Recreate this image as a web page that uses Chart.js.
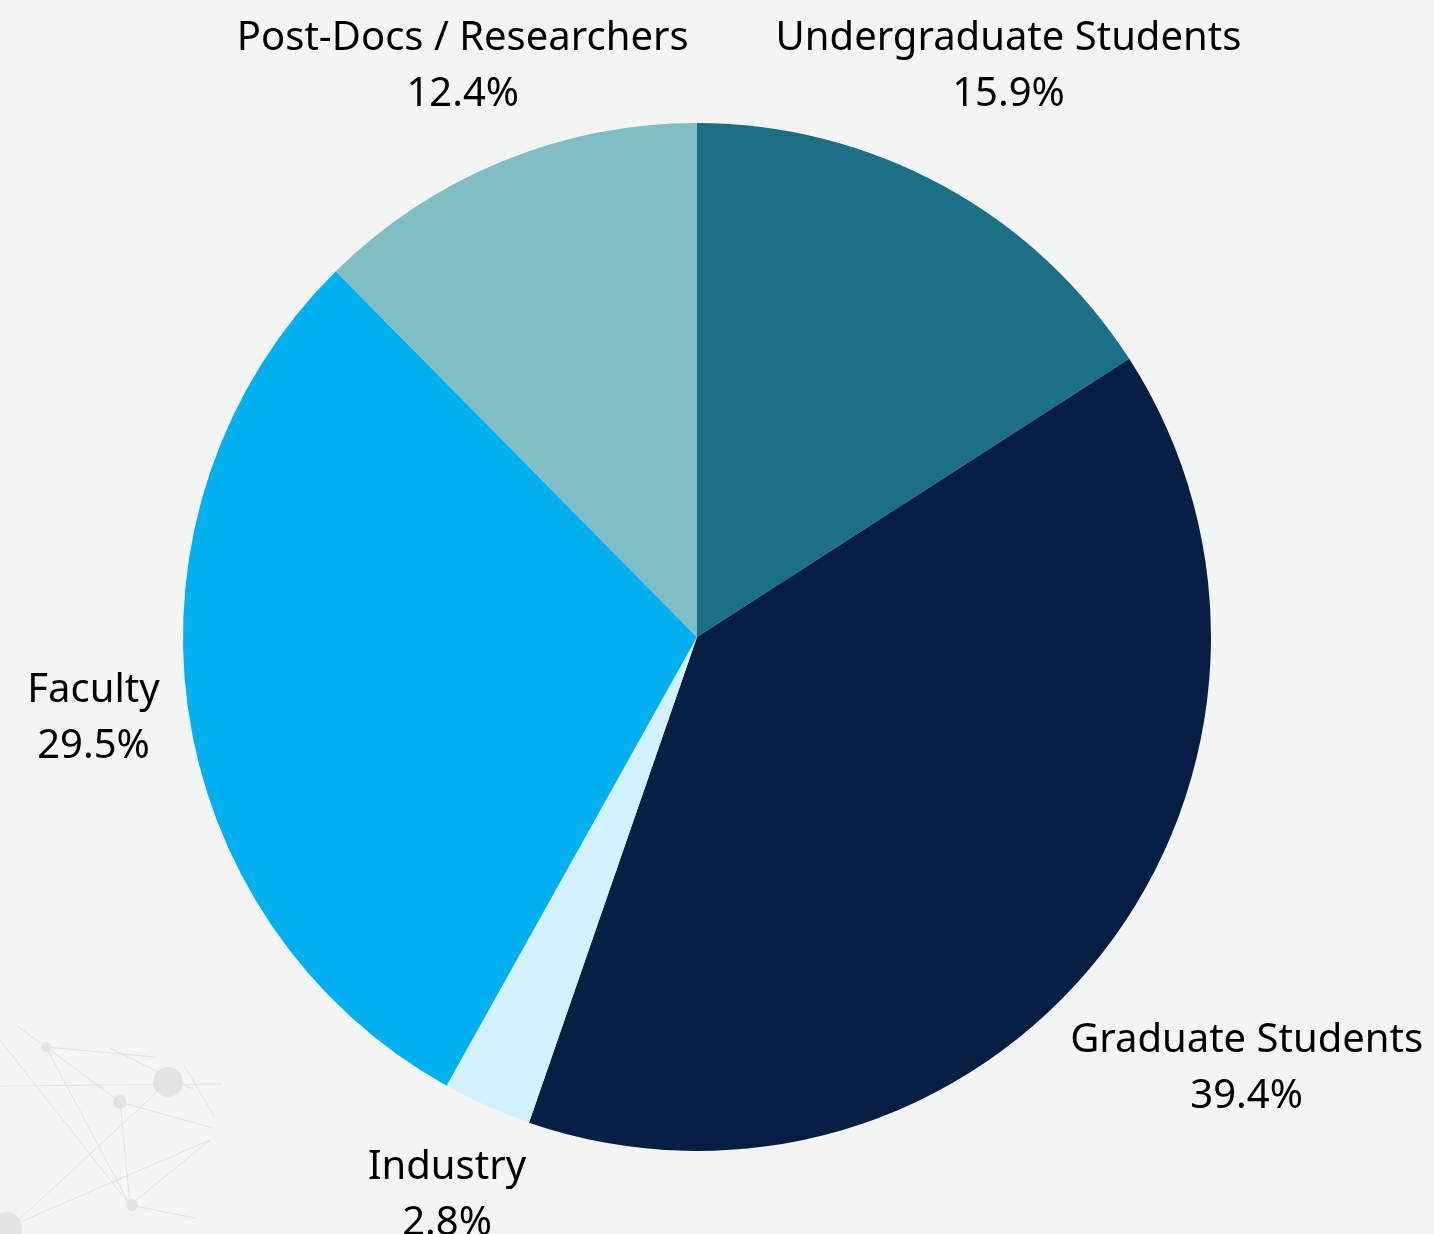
<!DOCTYPE html>
<html>
<head>
<meta charset="utf-8">
<script src="https://cdn.jsdelivr.net/npm/chart.js@4.4.1/dist/chart.umd.min.js"></script>
<style>
  html, body { margin: 0; padding: 0; background: #f3f5f4; }
  #wrap { width: 1434px; height: 1234px; position: relative; }
</style>
</head>
<body>
<div id="wrap"><canvas id="pie"></canvas></div>
<script>
// chart data
var labels = ['Undergraduate Students', 'Graduate Students', 'Industry', 'Faculty', 'Post-Docs / Researchers'];
var shares = [15.9, 39.4, 2.8, 29.5, 12.4];
var colors = ['#1b7085', '#061e43', '#d2f1fc', '#02b0ef', '#80bdc4'];

// how far out each label sits, as a multiple of the radius
var labelDist = [1.265, 1.36, 1.19, 1.185, 1.2];

// faint network pattern in the lower left corner
var backdrop = {
    id: 'backdrop',
    beforeDraw: function (chart) {
        var ctx = chart.ctx;
        ctx.save();
        ctx.fillStyle = '#f3f5f4';
        ctx.fillRect(0, 0, chart.width, chart.height);
        ctx.strokeStyle = 'rgba(200,200,200,0.45)';
        ctx.lineWidth = 1;
        var segs = [
            [17, 1026, 46, 1047], [46, 1047, 155, 1057], [0, 1086, 222, 1084],
            [46, 1047, 120, 1102], [120, 1102, 213, 1128], [0, 1040, 130, 1205],
            [46, 1047, 130, 1205], [120, 1102, 130, 1205], [110, 1048, 195, 1090],
            [168, 1082, 10, 1228], [20, 1222, 210, 1140], [130, 1205, 195, 1218],
            [130, 1205, 210, 1140], [184, 1065, 215, 1118]
        ];
        segs.forEach(function (s) {
            ctx.beginPath();
            ctx.moveTo(s[0], s[1]);
            ctx.lineTo(s[2], s[3]);
            ctx.stroke();
        });
        ctx.fillStyle = 'rgba(225,225,225,0.9)';
        [[46, 1047, 5], [168, 1082, 15], [120, 1102, 7], [132, 1205, 6], [6, 1228, 16]].forEach(function (c) {
            ctx.beginPath();
            ctx.arc(c[0], c[1], c[2], 0, Math.PI * 2);
            ctx.fill();
        });
        ctx.restore();
    }
};

// labels outside the slices
var outsideLabels = {
    id: 'outsideLabels',
    afterDatasetsDraw: function (chart) {
        var ctx = chart.ctx;
        var arcs = chart.getDatasetMeta(0).data;
        ctx.save();
        ctx.fillStyle = '#000';
        ctx.font = '40px "Noto Sans", "Open Sans", sans-serif';
        ctx.textAlign = 'center';
        ctx.textBaseline = 'middle';
        arcs.forEach(function (arc, i) {
            var mid = (arc.startAngle + arc.endAngle) / 2;
            var r = arc.outerRadius * labelDist[i];
            var x = arc.x + Math.cos(mid) * r;
            var y = arc.y + Math.sin(mid) * r;
            ctx.fillText(labels[i], x, y - 28);
            ctx.fillText(shares[i].toFixed(1) + '%', x, y + 28);
        });
        ctx.restore();
    }
};

new Chart(document.getElementById('pie'), {
    type: 'pie',
    data: {
        labels: labels,
        datasets: [{
            data: shares,
            backgroundColor: colors,
            borderWidth: 0
        }]
    },
    options: {
        responsive: true,
        maintainAspectRatio: false,
        animation: false,
        layout: { padding: { left: 183, right: 223, top: 123, bottom: 83 } },
        plugins: {
            legend: { display: false },
            tooltip: { enabled: false }
        }
    },
    plugins: [backdrop, outsideLabels]
});
</script>
</body>
</html>
